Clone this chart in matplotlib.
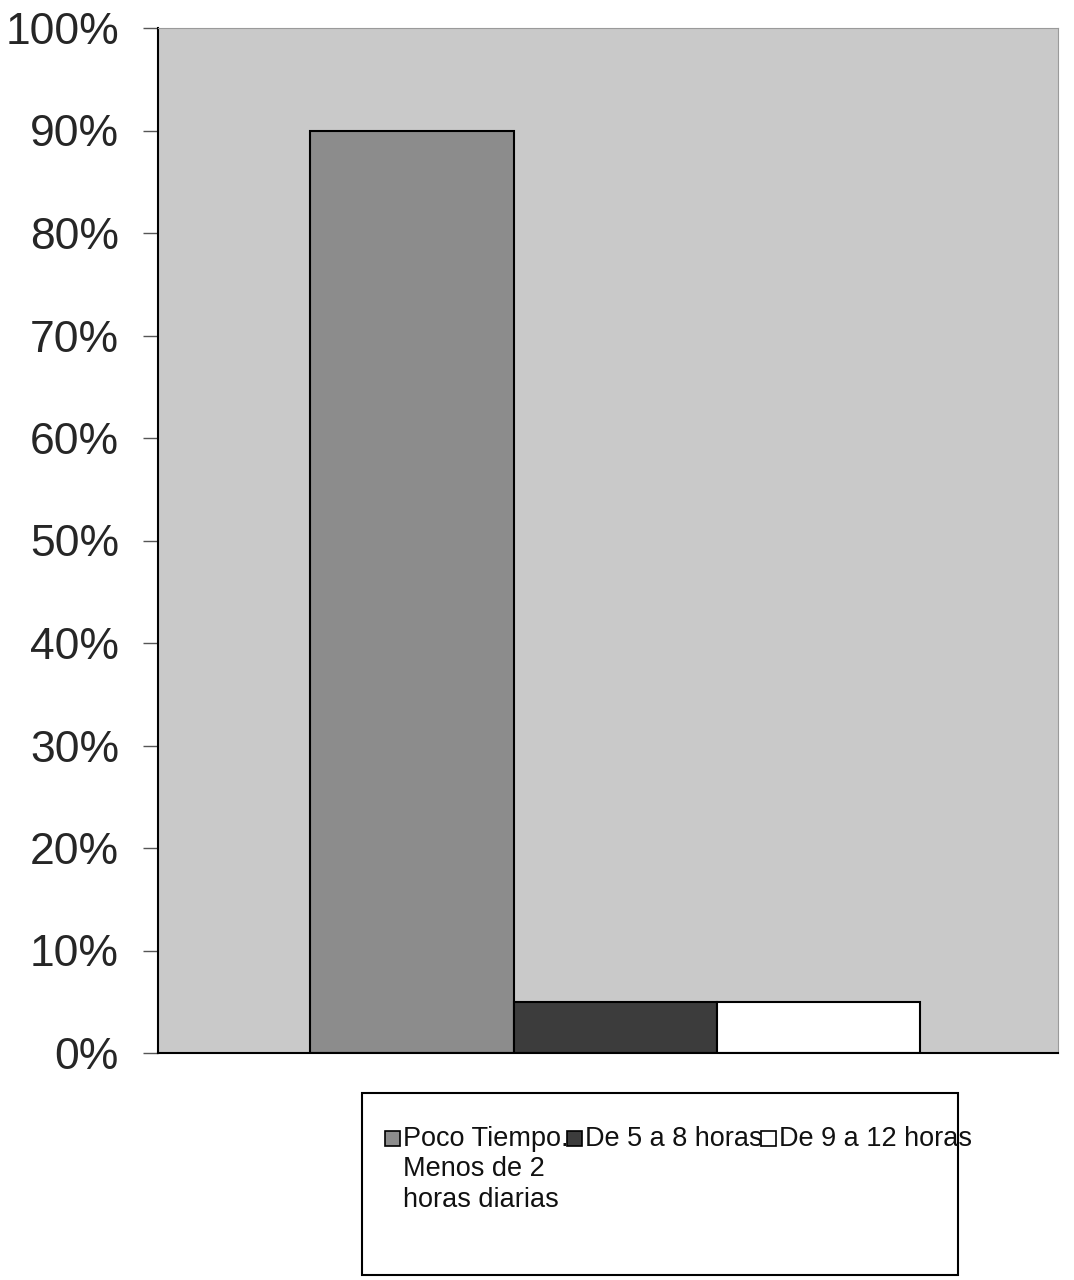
import numpy as np
import matplotlib.pyplot as plt
from matplotlib.patches import Rectangle

# data
labels = ['Poco Tiempo.\nMenos de 2\nhoras diarias', 'De 5 a 8 horas', 'De 9 a 12 horas']
values = [90, 5, 5]
colors = ['#8c8c8c', '#3c3c3c', '#ffffff']
yticks = [0, 10, 20, 30, 40, 50, 60, 70, 80, 90, 100]

plt.rcParams['font.family'] = ['Liberation Sans', 'DejaVu Sans']

W, H = 1074, 1280
fig = plt.figure(figsize=(W/100, H/100), dpi=100)
ax = fig.add_axes([158/W, 1 - 1053/H, 900/W, 1025/H])
ax.set_facecolor('#c9c9c9')

x = np.arange(len(values)) - 1
bars = ax.bar(x, values, width=1.0, color=colors, edgecolor='black', linewidth=1.5)

ax.set_xlim(-2.25, 2.18)
ax.set_ylim(0, 100)
ax.set_yticks(yticks)
ax.set_yticklabels([f'{t}%' for t in yticks], fontsize=32, color='#262626')
ax.set_xticks([])
ax.tick_params(axis='y', direction='out', length=11, width=1, color='#555555', pad=17)
for side in ['top', 'right']:
    ax.spines[side].set_color('#9a9a9a')
for side in ['left', 'bottom']:
    ax.spines[side].set_linewidth(1.5)

# legend box, drawn by hand so the markers sit on the first text line
fig.patches.append(Rectangle((362/W, 1 - 1275/H), 596/W, 182/H,
                             transform=fig.transFigure, facecolor='white',
                             edgecolor='black', linewidth=1.5))
marker_x = [385, 567, 761]
for mx, lab, col in zip(marker_x, labels, colors):
    fig.patches.append(Rectangle((mx/W, 1 - 1146/H), 15/W, 15/H,
                                 transform=fig.transFigure, facecolor=col,
                                 edgecolor='black', linewidth=1.2, zorder=3))
    fig.text((mx + 18)/W, 1 - 1126/H, lab, fontsize=19.5, color='#111111',
             va='top', ha='left', linespacing=1.22, zorder=4)

fig.savefig('out.png', dpi=100)
